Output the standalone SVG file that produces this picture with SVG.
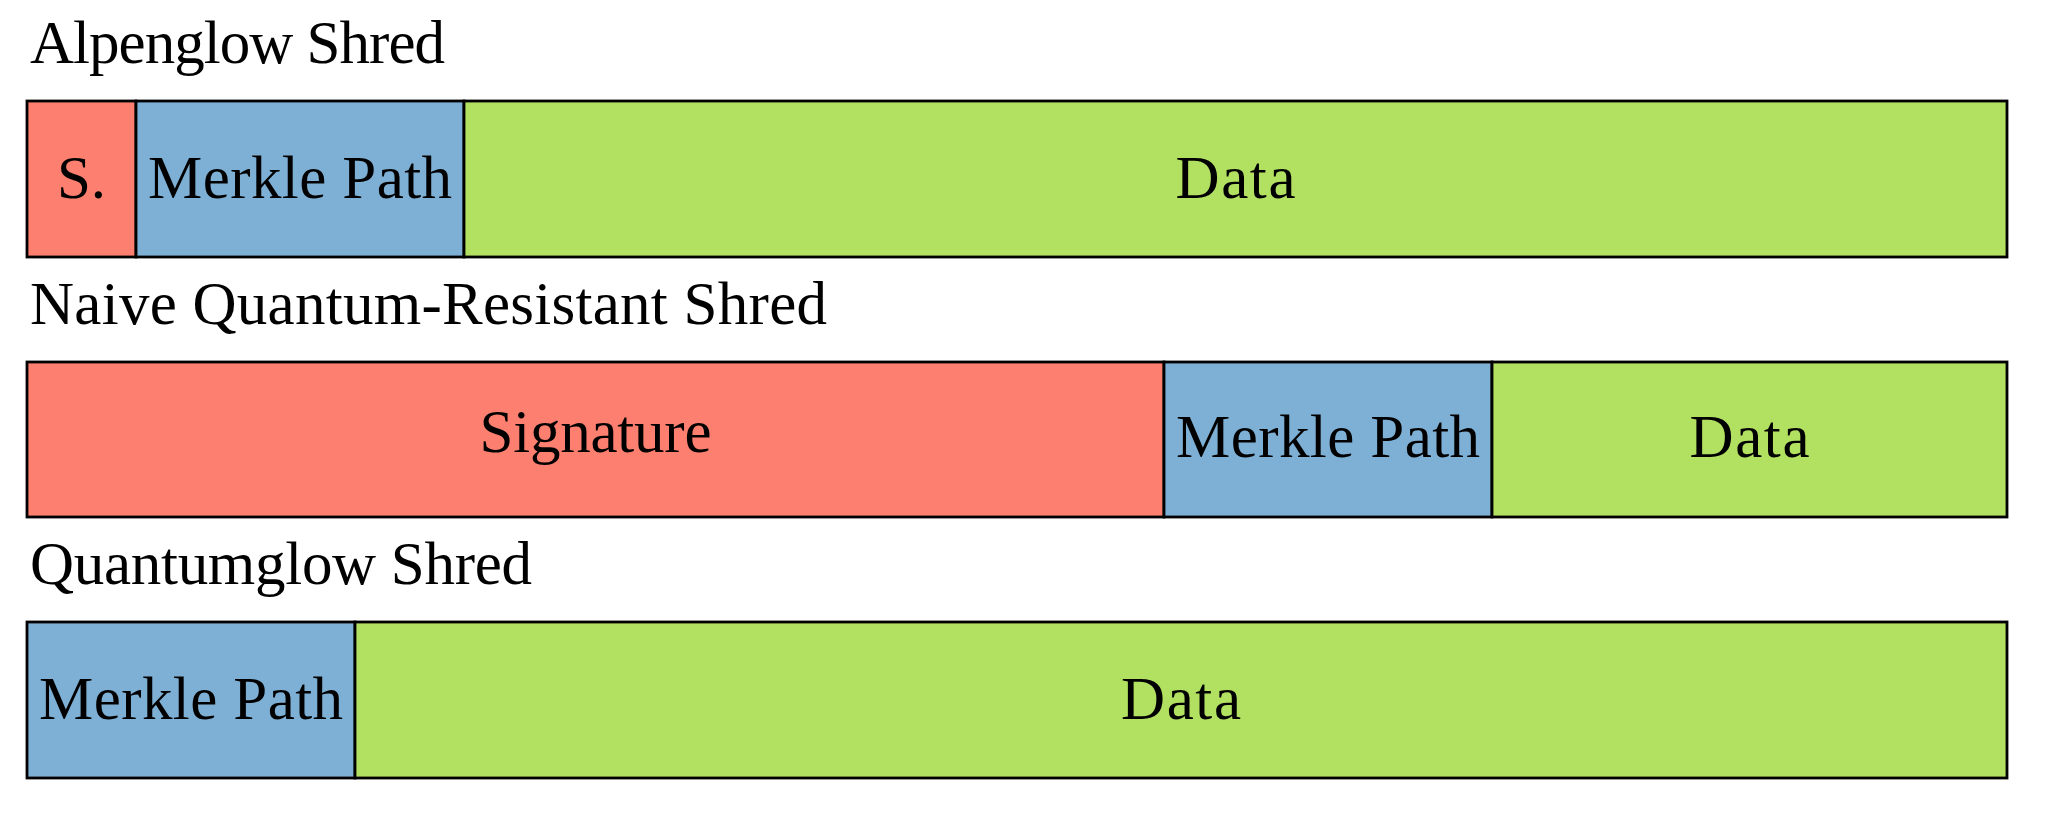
<svg xmlns="http://www.w3.org/2000/svg" width="2048" height="817" viewBox="0 0 2048 817">
<style>
.t{font-family:"Liberation Serif","DejaVu Serif",serif;font-size:61px;fill:#000}
.c{text-anchor:middle}
.r{fill:#fd7f6f}
.b{fill:#7eb0d5}
.g{fill:#b2e061}
.s{stroke:#000;stroke-width:2.8}
</style>
<rect width="2048" height="817" fill="#fff"/>
<g id="alpenglow">
<text class="t" x="30" y="63" textLength="415" lengthAdjust="spacing">Alpenglow Shred</text>
<g id="a-sig"><rect class="r s" x="27" y="101" width="109" height="156"/><text class="t c" x="81.5" y="198">S.</text></g>
<g id="a-merkle"><rect class="b s" x="136" y="101" width="328" height="156"/><text class="t c" x="300" y="198" textLength="304" lengthAdjust="spacing">Merkle Path</text></g>
<g id="a-data"><rect class="g s" x="464" y="101" width="1543" height="156"/><text class="t c" x="1235.5" y="198" textLength="120" lengthAdjust="spacing">Data</text></g>
</g>
<g id="naive">
<text class="t" x="30" y="324" textLength="797" lengthAdjust="spacing">Naive Quantum-Resistant Shred</text>
<g id="n-sig"><rect class="r s" x="27" y="362" width="1137" height="155"/><text class="t c" x="595.5" y="452" textLength="232" lengthAdjust="spacing">Signature</text></g>
<g id="n-merkle"><rect class="b s" x="1164" y="362" width="328" height="155"/><text class="t c" x="1328" y="457" textLength="304" lengthAdjust="spacing">Merkle Path</text></g>
<g id="n-data"><rect class="g s" x="1492" y="362" width="515" height="155"/><text class="t c" x="1749.5" y="457" textLength="120" lengthAdjust="spacing">Data</text></g>
</g>
<g id="quantumglow">
<text class="t" x="30" y="584" textLength="502" lengthAdjust="spacing">Quantumglow Shred</text>
<g id="q-merkle"><rect class="b s" x="27" y="622" width="328" height="156"/><text class="t c" x="191" y="719" textLength="304" lengthAdjust="spacing">Merkle Path</text></g>
<g id="q-data"><rect class="g s" x="355" y="622" width="1652" height="156"/><text class="t c" x="1181" y="719" textLength="120" lengthAdjust="spacing">Data</text></g>
</g>
<g id="connectors"></g>
</svg>
